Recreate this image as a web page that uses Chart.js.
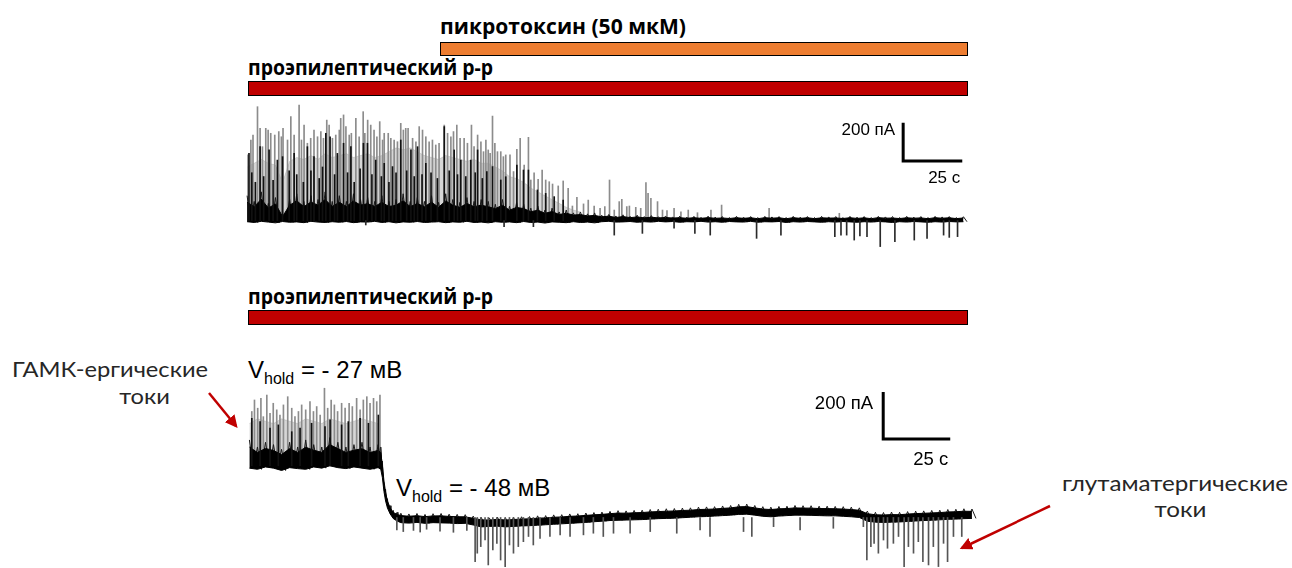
<!DOCTYPE html>
<html lang="ru">
<head>
<meta charset="UTF-8">
<title>пикротоксин</title>
<script src="https://cdn.jsdelivr.net/npm/chart.js@4.4.0/dist/chart.umd.min.js"></script>
<style>
    html, body { margin: 0; padding: 0; background: #fff; }
    body { width: 1292px; height: 568px; position: relative; overflow: hidden; }
    .box { position: absolute; }
    .lbl { position: absolute; white-space: nowrap; transform-origin: 0 0; }
    .drug { font-family: 'Open Sans'; font-weight: 700; font-size: 22px; line-height: 22px; color: #000; }
    .bar { position: absolute; box-sizing: border-box; border: 1.5px solid #000; }
    .vh { font-family: 'Liberation Sans'; font-size: 24px; line-height: 24px; color: #000; }
    .vh span { font-size: 16px; position: relative; top: 6px; }
    .note { position: absolute; font-family: Lato; font-size: 21px; line-height: 21px; color: #262626;
            white-space: nowrap; transform-origin: 50% 0; }
</style>
</head>
<body>
    <div class="lbl drug" id="lblPtx" style="left:440px; top:14px;">пикротоксин (50 мкМ)</div>
    <div class="bar" style="left:440px; top:42px; width:528px; height:14px; background:#ED7D31;"></div>
    <div class="lbl drug" id="lblSol1" style="left:248px; top:55px;">проэпилептический р-р</div>
    <div class="bar" style="left:248px; top:81px; width:720px; height:15px; background:#C00000;"></div>
    <div class="lbl drug" id="lblSol2" style="left:248px; top:284px;">проэпилептический р-р</div>
    <div class="bar" style="left:248px; top:310px; width:720px; height:15px; background:#C00000;"></div>

    <div class="lbl vh" id="vh1" style="left:248px; top:358px;">V<span>hold</span> = - 27 мВ</div>
    <div class="lbl vh" id="vh2" style="left:396px; top:476px;">V<span>hold</span> = - 48 мВ</div>

    <div class="note" id="n1" data-cx="110" data-w="196" style="top:358px;">ГАМК-ергические</div>
    <div class="note" id="n2" data-cx="145" data-ref="n1" style="top:385px;">токи</div>
    <div class="note" id="n3" data-cx="1175" data-w="226" style="top:472px;">глутаматергические</div>
    <div class="note" id="n4" data-cx="1181" data-ref="n3" style="top:498px;">токи</div>

    <div class="box" style="left:240px; top:100px;"><canvas id="topTrace" width="740" height="155"></canvas></div>
    <div class="box" style="left:240px; top:380px;"><canvas id="botTrace" width="740" height="188"></canvas></div>

    <svg width="1292" height="568" style="position:absolute; left:0; top:0; pointer-events:none;">
        <defs>
            <marker id="ah" markerWidth="5" markerHeight="5" refX="4" refY="2.5" orient="auto" markerUnits="strokeWidth">
                <path d="M0,0 L5,2.5 L0,5 z" fill="#C00000"/>
            </marker>
        </defs>
        <line x1="209" y1="393" x2="236" y2="426" stroke="#C00000" stroke-width="2.5" marker-end="url(#ah)"/>
        <line x1="1050" y1="506" x2="962" y2="548" stroke="#C00000" stroke-width="2.5" marker-end="url(#ah)"/>
    </svg>

    <script>
        // scale bars: 25 s x 200 pA
        const SCALE_S = 25;
        const SCALE_PA = 200;
        const BAND_STEP = 3;

        // ---- top trace (picrotoxin), time in s, current in pA ----
        const topBandHi = [
            130, 100, 150, 90, 120, 30, 110, 140, 100, 130,
            110, 150, 100, 130, 100, 140, 110, 120, 100, 130,
            100, 110, 140, 100, 120, 100, 130, 95, 140, 110,
            95, 120, 100, 110, 100, 85, 110, 75, 95, 85,
            65, 75, 55, 65, 45, 55, 40, 45, 35, 40,
            28, 32, 24, 30, 22, 28, 21, 26, 20, 24,
            19, 23, 18, 22, 17, 23, 18, 21, 16, 22,
            18, 21, 16, 22, 19, 21, 16, 22, 18, 21,
            16, 22, 19, 21, 16, 22, 18, 21, 16, 22,
            19, 21, 16, 22, 18, 21, 16, 22, 19, 21,
            16, 20
        ];
        const topBandLo = [
            -6, -10, -4, -8, -12, -5, -9, -7, -11, -4,
            -8, -10, -6, -9, -5, -11, -7, -8, -4, -10,
            -6, -12, -7, -9, -5, -10, -8, -6, -11, -7,
            -9, -4, -10, -8, -12, -6, -9, -7, -11, -5,
            -10, -8, -13, -7, -9, -11, -6, -10, -8, -12,
            -6, -4, -8, -7, -5, -9, -6, -8, -4, -7,
            -5, -9, -6, -7, -4, -8, -6, -9, -5, -7,
            -8, -4, -9, -6, -7, -5, -10, -6, -8, -5,
            -7, -9, -6, -8, -5, -7, -9, -6, -8, -5,
            -7, -10, -6, -8, -5, -7, -9, -6, -8, -5,
            -7, -6
        ];
        // dense grey mass of overlapping events, upper edge
        const topHaze = [
            280, 300, 320, 300, 290, 200, 310, 330, 320, 340,
            320, 350, 330, 340, 350, 330, 340, 350, 330, 340,
            360, 380, 370, 380, 360, 340, 330, 320, 340, 330,
            320, 310, 320, 300, 300, 280, 260, 230, 220, 200,
            170, 150, 130, 110, 90, 70, 55, 45
        ];
        // upward events (light)
        const topUpT = [
            0.4, 1.6, 2.5, 4.4, 5.5, 6.5, 7.9, 8.9, 10.0, 11.7, 13.4, 14.5, 15.2, 17.1, 18.5, 19.9,
            22.0, 23.0, 24.1, 25.5, 26.9, 28.3, 29.8, 31.2, 32.3, 33.7, 34.7, 36.1, 37.5, 39.0, 39.6,
            40.8, 41.8, 43.2, 44.1, 46.0, 47.4, 49.1, 49.8, 51.0, 52.3, 53.7, 54.9, 56.1, 57.3, 58.0,
            59.7, 60.8, 62.2, 63.6, 65.0, 66.1, 67.1, 68.1, 70.0, 71.4, 72.8, 74.2, 75.6, 77.0, 78.4,
            79.8, 81.2, 83.4, 84.8, 86.2, 87.3, 88.7, 90.1, 91.8, 93.2, 94.9, 96.0, 97.5, 98.9, 100.0,
            101.0, 102.0, 102.8, 103.8, 104.8, 105.9, 107.3, 108.4, 109.4, 111.2, 112.7, 114.1, 115.5,
            117.2, 119.0, 120.0, 121.4, 123.1, 124.8, 126.3, 127.8, 129.2, 131.6, 133.7, 135.8, 137.6,
            139.5, 142.3, 144.3, 146.8, 149.3, 151.3, 153.3, 155.3, 157.4, 158.5, 160.6, 161.7, 164.4,
            166.5, 168.7, 169.6, 170.8, 173.6, 175.7, 177.6, 180.6, 183.5, 186.6, 190.5, 196.2, 200.7,
            220.8, 250.5
        ];
        const topUpA = [
            343, 421, 447, 595, 482, 386, 482, 473, 456, 447, 465, 438, 482, 421, 543, 447,
            604, 421, 499, 404, 430, 473, 438, 465, 430, 525, 499, 430, 447, 473, 534,
            552, 491, 447, 456, 534, 438, 569, 456, 525, 499, 473, 438, 517, 421, 456,
            456, 430, 421, 412, 508, 473, 482, 482, 430, 412, 491, 473, 438, 412, 421,
            395, 404, 499, 456, 438, 465, 499, 430, 430, 404, 499, 386, 447, 412, 360,
            421, 369, 351, 546, 404, 360, 360, 334, 343, 343, 256, 372, 430,
            290, 435, 212, 250, 215, 264, 212, 203, 191, 181, 207, 168, 76,
            121, 87, 107, 76, 64, 73, 212, 55, 99, 111, 73, 76, 69,
            64, 198, 142, 116, 99, 55, 52, 64, 46, 55, 41, 55, 81,
            64, 38
        ];
        // upward events (dark)
        const topDarkT = [
            0.8, 2.0, 3.5, 5.5, 7.0, 9.3, 11.0, 12.8, 15.0, 17.8, 19.9, 21.0, 23.8, 25.5, 27.0, 28.3,
            30.5, 31.9, 33.3, 35.1, 37.0, 38.2, 40.8, 42.5, 43.9, 45.3, 47.8, 49.2, 50.9, 52.8, 54.4,
            56.8, 58.0, 60.0, 61.5, 63.0, 65.0, 67.5, 69.3, 70.7, 72.1, 74.0, 75.6, 77.8, 80.5, 83.4,
            85.5, 87.6, 89.0, 90.4, 92.5, 94.6, 96.5, 97.5, 99.5, 101.4, 103.8, 107.3, 109.4, 114.1,
            116.9, 119.0, 122.8, 126.3, 129.9, 133.7
        ];
        const topDarkA = [
            351, 250, 200, 386, 230, 369, 210, 316, 334, 260, 351, 240, 200, 386, 260, 334,
            220, 280, 456, 438, 240, 351, 404, 250, 386, 200, 270, 404, 404, 240, 316,
            230, 299, 200, 282, 250, 421, 260, 369, 230, 386, 240, 299, 250, 220, 491,
            260, 369, 240, 316, 230, 316, 250, 369, 220, 256, 282, 212, 229, 290,
            264, 264, 160, 142, 125, 107
        ];
        // downward events
        const topDownT = [
            50.2, 108.7, 121.1, 155.3, 167.2, 180.6, 189.4, 195.9, 215.5, 225.8, 248.6, 251.2,
            253.6, 256.8, 259.2, 262.2, 267.8, 274.0, 282.2, 287.6, 294.6, 297.0, 300.5
        ];
        const topDownA = [
            -23, -32, -32, -76, -67, -40, -67, -76, -93, -76, -84, -76,
            -76, -102, -80, -84, -136, -110, -102, -93, -76, -88, -84
        ];

        // ---- bottom trace (Vhold -27 -> -48 mV) ----
        const botSeg1Hi = [330, 300, 320, 310, 290, 320, 300, 330, 310, 300, 340, 320, 300, 310, 320, 300, 310];
        const botSeg1Lo = [210, 205, 215, 210, 200, 212, 208, 205, 215, 210, 220, 212, 208, 215, 210, 205, 212];
        const botSeg1Haze = [400, 420, 410, 400, 420, 410, 400, 420, 410, 400, 420, 410, 400, 410, 420, 410, 400];
        const botDropT = [49.5, 50.1, 50.7, 51.3, 52.0, 53.0, 54.2, 55.6];
        const botDropHi = [300, 240, 170, 120, 80, 50, 30, 22];
        const botDropLo = [205, 170, 110, 70, 40, 15, -5, -15];
        const botSeg2Hi = [
            18, 15, 17, 13, 16, 17, 14, 13, 12, 6,
            0, -2, 2, -1, 1, 3, 4, 7, 8, 11,
            12, 15, 16, 19, 21, 23, 26, 29, 28, 30,
            31, 34, 35, 37, 38, 40, 41, 44, 45, 46,
            49, 51, 56, 57, 51, 46, 44, 47, 48, 51,
            50, 50, 48, 48, 47, 46, 44, 41, 27, 22,
            21, 23, 22, 25, 27, 28, 30, 31, 34, 35,
            37, 36
        ];
        const botSeg2Lo = [
            -22, -24, -21, -25, -22, -23, -24, -26, -25, -32,
            -40, -38, -37, -40, -38, -36, -35, -33, -31, -29,
            -27, -25, -23, -21, -18, -16, -13, -12, -11, -10,
            -9, -7, -5, -4, -3, -1, 1, 3, 4, 6,
            8, 10, 13, 14, 10, 5, 3, 6, 8, 10,
            10, 9, 8, 7, 7, 5, 3, 0, -16, -20,
            -21, -20, -19, -17, -15, -13, -12, -10, -8, -7,
            -5, -4
        ];
        const botUpT = [
            1.4, 2.4, 3.6, 4.8, 5.7, 7.0, 8.2, 9.4, 10.7, 11.9, 13.2, 14.8, 16.3, 17.5, 18.8, 20.0,
            21.5, 23.1, 24.4, 25.6, 26.9, 28.5, 29.7, 31.0, 32.2, 33.4, 34.9, 36.2, 37.7, 38.9, 40.5,
            41.8, 43.0, 44.3, 45.5, 46.8, 48.0, 49.2
        ];
        const botUpA = [
            451, 500, 465, 507, 429, 521, 443, 486, 458, 436, 479, 514, 465, 429, 451, 479,
            458, 493, 451, 472, 436, 550, 465, 500, 479, 451, 486, 465, 486, 472, 507,
            458, 500, 514, 486, 507, 493, 521
        ];
        const botDarkT = [1.4, 4.5, 8.2, 11.3, 16.3, 19.4, 23.7, 28.7, 30.6, 34.9, 37.4, 41.8, 44.9, 48.6];
        const botDarkA = [422, 408, 380, 394, 365, 380, 401, 387, 415, 394, 408, 422, 401, 436];
        const botDownT = [
            55.5, 57.9, 61.7, 64.2, 66.6, 71.6, 76.6, 81.6, 84.7, 85.5, 86.8, 88.4, 89.6, 91.3, 92.8,
            94.2, 95.9, 97.5, 99.0, 100.8, 102.7, 104.6, 106.4, 108.9, 112.6, 116.4, 120.1, 125.1,
            128.8, 132.5, 136.3, 142.5, 150.0, 159.9, 168.6, 172.3, 184.8, 187.9, 196.0, 205.9, 218.3,
            229.5, 230.8, 232.3, 233.5, 235.1, 237.0, 238.5, 240.7, 242.6, 244.7, 246.3, 248.2, 250.0,
            251.7, 253.8, 255.6, 257.5, 259.4, 260.9, 263.1, 266.2
        ];
        const botDownA = [
            -53, -60, -55, -62, -50, -58, -63, -55, -188, -152, -124, -96, -202, -138, -110,
            -181, -209, -117, -152, -124, -103, -81, -117, -89, -81, -74, -81, -74,
            -67, -81, -67, -67, -60, -67, -53, -81, -60, -81, -39, -53, -46,
            -39, -181, -124, -110, -152, -96, -131, -110, -81, -209, -124, -152, -103,
            -188, -202, -124, -209, -110, -188, -81, -81
        ];

        // ragged edge: alternate between top and bottom of the noise band
        function zigzag(ts, his, los, half) {
            const out = [];
            his.forEach((h, i) => {
                out.push({ x: ts[i], y: h });
                out.push({ x: ts[i] + half, y: los[i] });
            });
            return out;
        }
        // solid part of the band covers the lower share of the noise
        function coreOf(his, los, share) {
            return his.map((h, i) => los[i] + share * (h - los[i]));
        }
        function steps(t0, n) {
            return Array.from({ length: n }, (_, i) => t0 + i * BAND_STEP);
        }
        function pts(ts, vs) {
            return vs.map((v, i) => ({ x: ts[i], y: v }));
        }
        function spikes(ts, as, base) {
            return as.map((a, i) => ({ x: ts[i], y: [base, a] }));
        }
        function spikeSet(data, color, order) {
            return { type: 'bar', data: data, backgroundColor: color, borderWidth: 0,
                     barThickness: 1, grouped: false, order: order };
        }
        function lineSet(data, color, width, fill, order) {
            return { type: 'line', data: data, borderColor: color, backgroundColor: color, borderWidth: width,
                     pointRadius: 0, tension: 0, fill: fill, order: order };
        }
        function hazeSet(data, base, order) {
            return { type: 'line', data: data, borderColor: 'rgba(0,0,0,0.12)', borderWidth: 1,
                     backgroundColor: 'rgba(0,0,0,0.16)', pointRadius: 0, tension: 0,
                     fill: { value: base }, order: order };
        }
        function scaleSet(t0, a0) {
            return { type: 'line', data: [{ x: t0, y: a0 + SCALE_PA }, { x: t0, y: a0 }, { x: t0 + SCALE_S, y: a0 }],
                     borderColor: '#000', borderWidth: 3, pointRadius: 0, fill: false,
                     borderJoinStyle: 'miter', borderCapStyle: 'butt', order: 0 };
        }

        const scaleLabels = {
            id: 'scaleLabels',
            afterDatasetsDraw(chart, args, o) {
                const ctx = chart.ctx, x = chart.scales.x, y = chart.scales.y;
                const px = x.getPixelForValue(o.t0);
                const py = y.getPixelForValue(o.a0);
                const pTop = y.getPixelForValue(o.a0 + SCALE_PA);
                const pRight = x.getPixelForValue(o.t0 + SCALE_S);
                ctx.save();
                ctx.fillStyle = '#000';
                ctx.font = o.font;
                ctx.textAlign = 'right';
                ctx.textBaseline = 'middle';
                ctx.fillText(SCALE_PA + ' пА', px - o.gap, pTop + o.dy1);
                ctx.fillText(SCALE_S + ' с', pRight - 2, py + o.dy2);
                ctx.restore();
            }
        };

        function baseOptions(xmin, xmax, ymin, ymax, labelOpts) {
            return {
                responsive: false,
                animation: false,
                devicePixelRatio: 1,
                layout: { padding: 0 },
                plugins: { legend: { display: false }, tooltip: { enabled: false }, scaleLabels: labelOpts },
                scales: {
                    x: { type: 'linear', min: xmin, max: xmax, display: false, offset: false },
                    y: { type: 'linear', min: ymin, max: ymax, display: false }
                }
            };
        }

        // top trace
        const topT = steps(0, topBandHi.length);
        new Chart(document.getElementById('topTrace'), {
            type: 'bar',
            data: {
                datasets: [
                    hazeSet(pts(steps(0, topHaze.length), topHaze), 0, 9),
                    spikeSet(spikes(topUpT, topUpA, 0), '#8c8c8c', 8),
                    lineSet(zigzag(topT, topBandHi, topBandLo, BAND_STEP / 2), '#1a1a1a', 1, false, 7),
                    lineSet(pts(topT, coreOf(topBandHi, topBandLo, 0.75)), '#000', 1, false, 6),
                    lineSet(pts(topT, topBandLo), '#000', 1, '-1', 5),
                    spikeSet(spikes(topDarkT, topDarkA, 0), '#111', 3),
                    spikeSet(spikes(topDownT, topDownA, 0), '#2a2a2a', 2),
                    scaleSet(277.5, 311)
                ]
            },
            options: baseOptions(-3, 310, -180, 630,
                { t0: 277.5, a0: 311, font: '17px "Liberation Sans"', gap: 8, dy1: 8, dy2: 17 }),
            plugins: [scaleLabels]
        });

        // bottom trace: first holding level, step, second holding level
        const seg1T = steps(0.5, botSeg1Hi.length);
        const seg2T = steps(57, botSeg2Hi.length);
        const botZig = zigzag(seg1T, botSeg1Hi, botSeg1Lo, BAND_STEP / 2)
            .concat(zigzag(botDropT, botDropHi, botDropLo, 0.3))
            .concat(zigzag(seg2T, botSeg2Hi, botSeg2Lo, BAND_STEP / 2));
        const botCore = pts(seg1T, coreOf(botSeg1Hi, botSeg1Lo, 0.75))
            .concat(pts(botDropT, coreOf(botDropHi, botDropLo, 0.75)))
            .concat(pts(seg2T, coreOf(botSeg2Hi, botSeg2Lo, 0.75)));
        const botLo = pts(seg1T, botSeg1Lo)
            .concat(pts(botDropT, botDropLo))
            .concat(pts(seg2T, botSeg2Lo));

        new Chart(document.getElementById('botTrace'), {
            type: 'bar',
            data: {
                datasets: [
                    hazeSet(pts(seg1T, botSeg1Haze), 215, 9),
                    spikeSet(spikes(botUpT, botUpA, 220), '#8c8c8c', 8),
                    lineSet(botZig, '#1a1a1a', 1, false, 7),
                    lineSet(botCore, '#000', 1, false, 6),
                    lineSet(botLo, '#000', 1, '-1', 5),
                    spikeSet(spikes(botDarkT, botDarkA, 220), '#111', 3),
                    spikeSet(spikes(botDownT, botDownA, 0), '#555', 2),
                    scaleSet(236.9, 334)
                ]
            },
            options: baseOptions(-3, 273, -215, 585,
                { t0: 236.9, a0: 334, font: '18.5px "Liberation Sans"', gap: 10, dy1: 12, dy2: 21 }),
            plugins: [scaleLabels]
        });

        // stretch labels to the width they take in the figure
        function fitWidth(id, w) {
            const el = document.getElementById(id);
            el.style.transform = 'none';
            const r = w / el.getBoundingClientRect().width;
            el.style.transform = 'scaleX(' + r + ')';
        }
        function fitNotes() {
            const ratios = {};
            document.querySelectorAll('.note').forEach(el => {
                el.style.transform = 'none';
                const w = el.getBoundingClientRect().width;
                const r = el.dataset.w ? el.dataset.w / w : ratios[el.dataset.ref];
                ratios[el.id] = r;
                el.style.left = (el.dataset.cx - w / 2) + 'px';
                el.style.transform = 'scaleX(' + r + ')';
            });
        }
        function fitAll() {
            fitWidth('lblPtx', 246);
            fitWidth('lblSol1', 245);
            fitWidth('lblSol2', 245);
            fitNotes();
        }
        fitAll();
        document.fonts.ready.then(fitAll);
    </script>
</body>
</html>
